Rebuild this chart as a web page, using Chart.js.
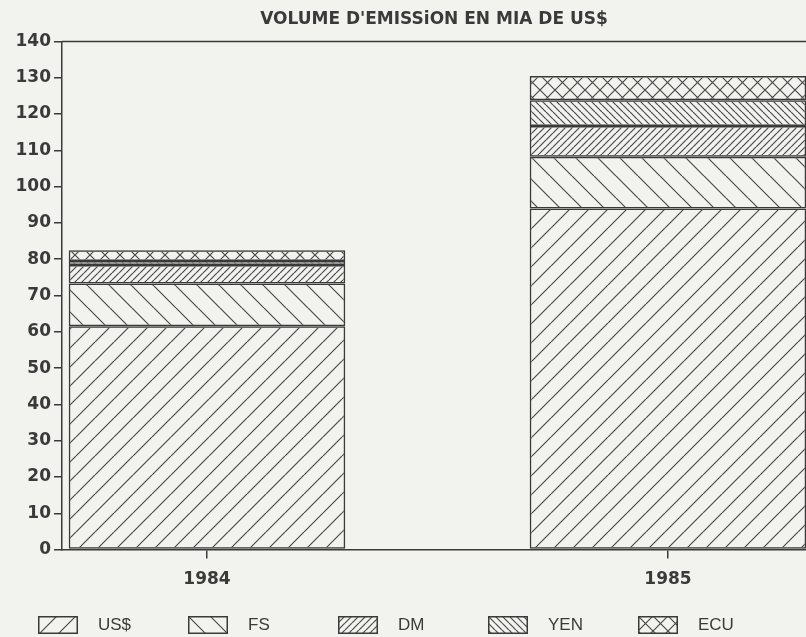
<!DOCTYPE html>
<html>
<head>
<meta charset="utf-8">
<script src="https://cdn.jsdelivr.net/npm/chart.js@4.4.0/dist/chart.umd.min.js"></script>
<style>
html, body { margin: 0; padding: 0; background: #f2f3ef; overflow: hidden; }
#wrap { position: relative; width: 806px; height: 637px; }
#legend { position: absolute; left: 38px; top: 615px; display: flex; }
#legend .item { width: 150px; display: flex; align-items: center; }
#legend canvas { display: block; margin-right: 20px; }
#legend span { font: 17px 'Liberation Sans', sans-serif; color: #3a3a3a; }
</style>
</head>
<body>
<div id="wrap">
    <canvas id="chart" width="806" height="637"></canvas>
    <div id="legend"></div>
</div>
<script>
// Data
const years = ['1984', '1985'];
const usd = [61.5, 94.0];
const fs = [11.8, 14.2];
const dm = [5.1, 8.5];
const yen = [1.1, 7.1];
const ecu = [3.0, 6.7];
const yMin = 0, yMax = 140, yStep = 10;

const ink = '#3a3a3a';

// Hatch patterns
function hatch(w, h, dirs) {
    const c = document.createElement('canvas');
    c.width = w; c.height = h;
    const g = c.getContext('2d');
    g.strokeStyle = '#4a4a4a';
    g.lineWidth = 1.2;
    g.beginPath();
    dirs.forEach(d => {
        for (let k = -1; k <= 1; k++) {
            const o = k * w;
            if (d === '/') { g.moveTo(o, h); g.lineTo(o + w, 0); }
            else { g.moveTo(o, 0); g.lineTo(o + w, h); }
        }
    });
    g.stroke();
    return g.createPattern(c, 'repeat');
}

function series(label, values, pattern) {
    return {
        label,
        data: values.map((v, i) => ({ x: i, y: v })),
        backgroundColor: pattern,
        borderColor: ink,
        borderWidth: 1.5,
        borderSkipped: false,
        barPercentage: 0.6,
        categoryPercentage: 1
    };
}

const datasets = [
    series('US$', usd, hatch(19, 19, ['/'])),
    series('FS', fs, hatch(22, 22, ['\\'])),
    series('DM', dm, hatch(7, 7, ['/'])),
    series('YEN', yen, hatch(7, 7, ['\\'])),
    series('ECU', ecu, hatch(15, 15, ['/', '\\']))
];

// Top frame line of the plot
const topLine = {
    id: 'topLine',
    afterDatasetsDraw(chart) {
        const { ctx, chartArea } = chart;
        ctx.save();
        ctx.strokeStyle = ink;
        ctx.lineWidth = 1.5;
        ctx.beginPath();
        ctx.moveTo(chartArea.left, chartArea.top);
        ctx.lineTo(chartArea.right, chartArea.top);
        ctx.stroke();
        ctx.restore();
    }
};

const tickFont = { family: 'DejaVu Sans', size: 17, weight: 'bold' };

const chart = new Chart(document.getElementById('chart').getContext('2d'), {
    type: 'bar',
    data: { datasets },
    plugins: [topLine],
    options: {
        responsive: false,
        animation: false,
        layout: { padding: { left: 0, right: 0, top: 0, bottom: 36 } },
        scales: {
            x: {
                type: 'linear',
                stacked: true,
                offset: false,
                min: -0.3145,
                max: 1.2994,
                afterBuildTicks: s => { s.ticks = years.map((_, i) => ({ value: i })); },
                ticks: {
                    callback: v => years[v],
                    font: tickFont,
                    color: ink,
                    padding: 11,
                    maxRotation: 0
                },
                grid: { offset: false, drawOnChartArea: false, tickLength: 9, color: ink, lineWidth: 1.5 },
                border: { color: ink, width: 1.5 }
            },
            y: {
                stacked: true,
                min: yMin,
                max: yMax,
                afterFit: s => { s.width = 62; },
                ticks: { stepSize: yStep, font: tickFont, color: ink, padding: 3 },
                grid: { drawOnChartArea: false, tickLength: 8, color: ink, lineWidth: 1.5 },
                border: { color: ink, width: 1.5 }
            }
        },
        plugins: {
            title: {
                display: true,
                text: "VOLUME D'EMISSiON EN MIA DE US$",
                fullSize: false,
                color: ink,
                font: { family: 'DejaVu Sans', size: 17, weight: 'bold' },
                padding: { top: 9, bottom: 12 }
            },
            legend: { display: false },
            tooltip: { enabled: false }
        }
    }
});

// HTML legend with the same hatch swatches
const legendEl = document.getElementById('legend');
chart.data.datasets.forEach(ds => {
    const item = document.createElement('div');
    item.className = 'item';
    const sw = document.createElement('canvas');
    sw.width = 40; sw.height = 18;
    const g = sw.getContext('2d');
    g.fillStyle = ds.backgroundColor;
    g.fillRect(0, 0, 40, 18);
    g.strokeStyle = ink;
    g.lineWidth = 1.5;
    g.strokeRect(0.75, 0.75, 38.5, 16.5);
    const txt = document.createElement('span');
    txt.textContent = ds.label;
    item.appendChild(sw);
    item.appendChild(txt);
    legendEl.appendChild(item);
});
</script>
</body>
</html>
